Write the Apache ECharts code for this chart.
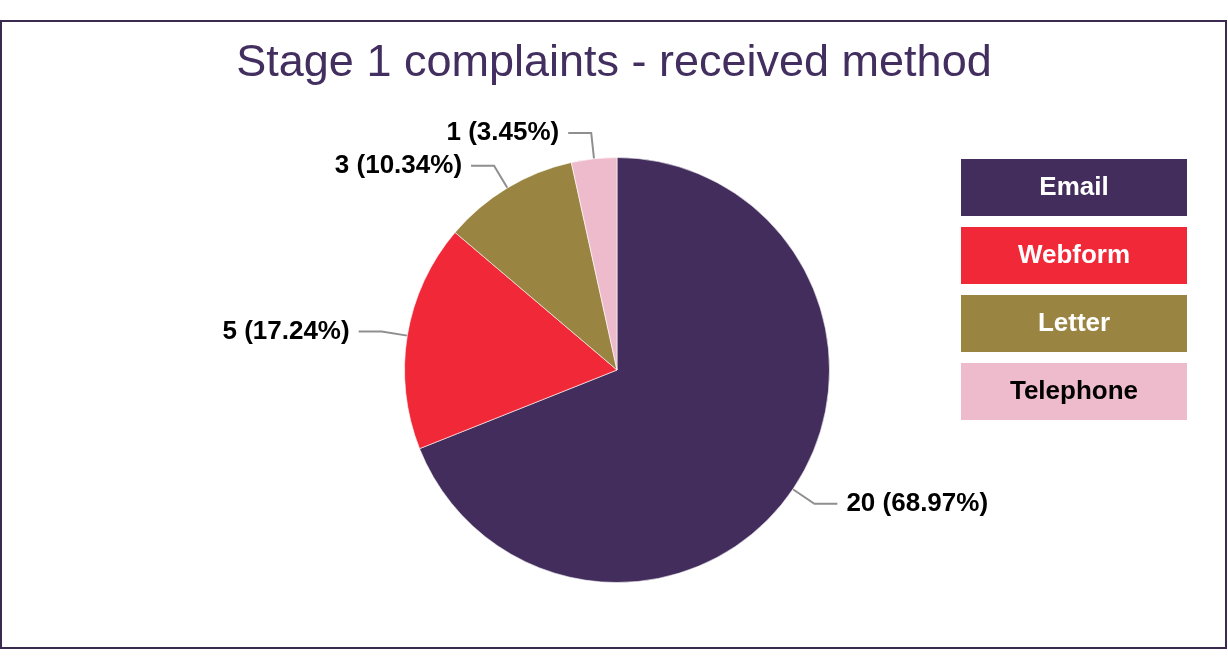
<!DOCTYPE html>
<html>
<head>
<meta charset="utf-8">
<script src="https://cdn.jsdelivr.net/npm/echarts@6/dist/echarts.min.js"></script>
<style>
  html, body { margin: 0; padding: 0; background: #fff; }
  #chart { width: 1228px; height: 665px; }
</style>
</head>
<body>
<div id="chart"></div>
<script>
// Complaint channels and counts
const categories = ['Email', 'Webform', 'Letter', 'Telephone'];
const counts = [20, 5, 3, 1];

// Slice colours and the text colour used on each legend tile
const sliceColors = ['#422d5c', '#f12837', '#998541', '#eebbcc'];
const tileTextColors = ['#ffffff', '#ffffff', '#ffffff', '#000000'];

const FONT = '"Liberation Sans", Arial, sans-serif';

const pieData = categories.map((name, i) => ({
  name: name,
  value: counts[i],
  itemStyle: { color: sliceColors[i] }
}));

// One rich-text style per legend tile so each gets its own background
const tileRich = {};
categories.forEach((name, i) => {
  tileRich['t' + i] = {
    width: 226,
    height: 57,
    lineHeight: 57,
    align: 'center',
    backgroundColor: sliceColors[i],
    color: tileTextColors[i],
    fontSize: 26,
    fontWeight: 'bold',
    fontFamily: FONT
  };
});

const chart = echarts.init(document.getElementById('chart'), null, { renderer: 'canvas' });

chart.setOption({
  backgroundColor: '#ffffff',
  animation: false,
  title: {
    text: 'Stage 1 complaints - received method',
    left: 'center',
    top: 41,
    padding: 0,
    textStyle: {
      fontFamily: FONT,
      fontSize: 45,
      fontWeight: 'normal',
      color: '#432e60'
    }
  },
  legend: {
    orient: 'vertical',
    left: 955,
    top: 159,
    padding: 0,
    itemGap: 11,
    itemWidth: 0,
    itemHeight: 0,
    icon: 'rect',
    selectedMode: false,
    data: categories,
    formatter: function (name) {
      return '{t' + categories.indexOf(name) + '|' + name + '}';
    },
    textStyle: { rich: tileRich }
  },
  graphic: [{
    type: 'rect',
    silent: true,
    shape: { x: 1, y: 21, width: 1225, height: 627 },
    style: { fill: 'none', stroke: '#3a2a50', lineWidth: 2 }
  }],
  series: [{
    type: 'pie',
    center: [617, 370],
    radius: 212.5,
    startAngle: 90,
    clockwise: true,
    data: pieData,
    itemStyle: { borderColor: '#ffffff', borderWidth: 0.6 },
    label: {
      show: true,
      position: 'outside',
      formatter: '{c} ({d}%)',
      fontFamily: FONT,
      fontSize: 26,
      fontWeight: 'bold',
      color: '#000000',
      distanceToLabelLine: 9
    },
    labelLine: {
      show: true,
      length: 26,
      length2: 23,
      smooth: false,
      lineStyle: { color: '#8f8f8f', width: 2 }
    },
    emphasis: { disabled: true }
  }]
});
</script>
</body>
</html>
